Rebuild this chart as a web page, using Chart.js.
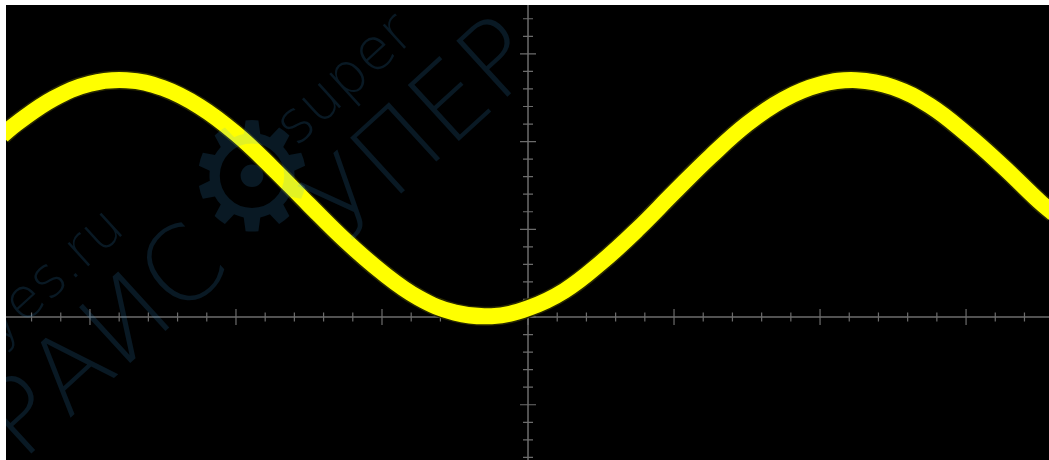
<!DOCTYPE html>
<html>
<head>
<meta charset="utf-8">
<script src="https://cdn.jsdelivr.net/npm/chart.js@4"></script>
<style>
  html, body { margin: 0; padding: 0; background: #ffffff; }
  #screen { position: absolute; left: 6px; top: 5px; width: 1043px; height: 455px; background: #000000; }
</style>
</head>
<body>
<div id="screen"><canvas id="scope"></canvas></div>
<script>
// trace in divisions (x: 0 = centre line, y: 0 = horizontal axis)
var traceX = [-3.6, -3.5, -3.25, -3.0, -2.75, -2.5, -2.25, -2.0, -1.75, -1.5, -1.25, -1.0, -0.75, -0.5, -0.25,
              0, 0.25, 0.5, 0.75, 1.0, 1.25, 1.5, 1.75, 2.0, 2.25, 2.5, 2.75, 3.0, 3.25, 3.5, 3.6];
var traceY = [2.07, 2.21, 2.49, 2.66, 2.70, 2.61, 2.40, 2.09, 1.70, 1.28, 0.87, 0.51, 0.22, 0.05, 0.01,
              0.10, 0.30, 0.62, 1.00, 1.42, 1.83, 2.20, 2.48, 2.65, 2.70, 2.62, 2.41, 2.09, 1.72, 1.32, 1.18];

// visible window of the screen, in divisions
var xMin = -3.575, xMax = 3.568;
var yMin = -1.63, yMax = 3.557;
var minorStep = 0.2;

var points = [];
for (var i = 0; i < traceX.length; i++) {
  points.push({x: traceX[i], y: traceY[i]});
}

var graticule = {
  id: 'graticule',
  beforeDatasetsDraw: function(chart) {
    var ctx = chart.ctx;
    var sx = chart.scales.x, sy = chart.scales.y;
    var area = chart.chartArea;
    var cx = sx.getPixelForValue(0);
    var cy = sy.getPixelForValue(0);
    ctx.save();
    ctx.strokeStyle = '#6c6c6c';
    ctx.lineWidth = 1.5;
    ctx.beginPath();
    ctx.moveTo(area.left, cy); ctx.lineTo(area.right, cy);
    ctx.moveTo(cx, area.top); ctx.lineTo(cx, area.bottom);
    ctx.stroke();
    ctx.lineWidth = 1.2;
    ctx.beginPath();
    var k, v, p, half;
    for (k = Math.ceil(xMin / minorStep); k <= Math.floor(xMax / minorStep); k++) {
      v = k * minorStep;
      p = sx.getPixelForValue(v);
      half = (k % 5 === 0) ? 8 : 4.5;
      ctx.moveTo(p, cy - half); ctx.lineTo(p, cy + half);
    }
    for (k = Math.ceil(yMin / minorStep); k <= Math.floor(yMax / minorStep); k++) {
      v = k * minorStep;
      p = sy.getPixelForValue(v);
      half = (k % 5 === 0) ? 8 : 5;
      ctx.moveTo(cx - half, p); ctx.lineTo(cx + half, p);
    }
    ctx.stroke();
    ctx.restore();
  },
  afterDatasetsDraw: function(chart) {
    // faint shop watermark over the screen
    var ctx = chart.ctx;
    ctx.save();
    ctx.fillStyle = 'rgba(60,170,240,0.15)';
    ctx.textBaseline = 'alphabetic';
    ctx.translate(-6, -5);

    ctx.save();
    ctx.translate(345, 245);
    ctx.rotate(-0.74);
    ctx.font = '300 104px "DejaVu Sans"';
    ctx.fillText('УПЕР', 0, 0);
    ctx.font = '300 58px "DejaVu Sans"';
    ctx.fillText('super', 30, -105);
    ctx.restore();

    ctx.save();
    ctx.translate(252, 190);
    ctx.font = '150px "DejaVu Sans"';
    ctx.textAlign = 'center';
    ctx.textBaseline = 'middle';
    ctx.fillText('⚙', 0, 0);
    ctx.restore();

    ctx.save();
    ctx.translate(22, 462);
    ctx.rotate(-0.74);
    ctx.font = '300 104px "DejaVu Sans"';
    ctx.fillText('РАИС', 0, 0);
    ctx.font = '300 56px "DejaVu Sans"';
    ctx.fillText('yes.ru', 60, -100);
    ctx.restore();

    ctx.restore();
  }
};

new Chart(document.getElementById('scope'), {
  type: 'line',
  data: {
    datasets: [
      {
        data: points,
        borderColor: '#ffff00',
        borderWidth: 16,
        tension: 0.4,
        pointRadius: 0,
        fill: false,
        order: 1
      },
      {
        data: points,
        borderColor: '#2a2a00',
        borderWidth: 19,
        tension: 0.4,
        pointRadius: 0,
        fill: false,
        order: 2
      }
    ]
  },
  options: {
    responsive: true,
    maintainAspectRatio: false,
    animation: false,
    layout: { padding: 0 },
    plugins: { legend: { display: false }, tooltip: { enabled: false } },
    scales: {
      x: { type: 'linear', min: xMin, max: xMax, display: false },
      y: { type: 'linear', min: yMin, max: yMax, display: false }
    }
  },
  plugins: [graticule]
});
</script>
</body>
</html>
